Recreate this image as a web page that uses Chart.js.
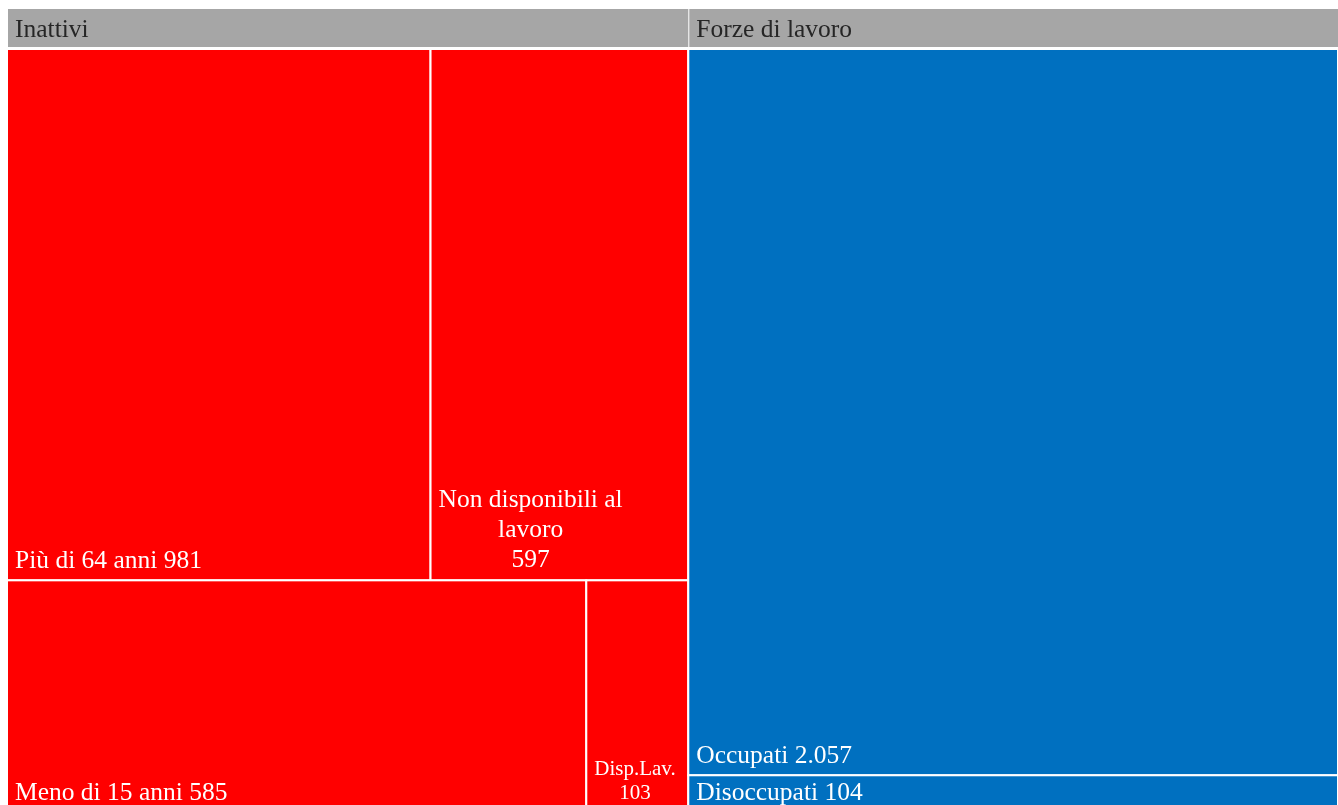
<!DOCTYPE html>
<html>
<head>
<meta charset="utf-8">
<script src="https://cdn.jsdelivr.net/npm/chart.js@4/dist/chart.umd.min.js"></script>
<style>
  html, body { margin: 0; padding: 0; overflow: hidden; background: #fff; }
  canvas { display: block; }
</style>
</head>
<body>
<canvas id="grafico" width="1338" height="812"></canvas>
<script>
// Dati
const gruppi = ["Inattivi", "Forze di lavoro"];
const categorie = ["Più di 64 anni", "Non disponibili al lavoro", "Meno di 15 anni", "Disp.Lav.", "Occupati", "Disoccupati"];
const gruppoDi = [0, 0, 0, 0, 1, 1];
const valori = [981, 597, 585, 103, 2057, 104];
// quante categorie per riga, dentro ogni gruppo
const righe = [[2, 2], [1, 1]];
const coloriGruppi = ["#ff0000", "#0070c0"];

function formatta(n) {
  return String(n).replace(/\B(?=(\d{3})+(?!\d))/g, ".");
}

const somma = arr => arr.reduce((a, b) => a + b, 0);
const totaliGruppi = gruppi.map((g, gi) => somma(valori.filter((v, k) => gruppoDi[k] === gi)));
const totale = somma(totaliGruppi);

// celle in unità dei dati (x: valori, y: quota del gruppo)
const celle = [];
const intestazioni = [];
let inizio = 0;
gruppi.forEach((g, gi) => {
  const indici = valori.map((v, k) => k).filter(k => gruppoDi[k] === gi);
  let y0 = 0, pos = 0;
  righe[gi].forEach(n => {
    const riga = indici.slice(pos, pos + n);
    pos += n;
    const sommaRiga = somma(riga.map(k => valori[k]));
    const h = sommaRiga / totaliGruppi[gi];
    let xx = inizio;
    riga.forEach(k => {
      const w = totaliGruppi[gi] * valori[k] / sommaRiga;
      celle.push({ k, gi, x0: xx, x1: xx + w, y0, y1: y0 + h });
      xx += w;
    });
    y0 += h;
  });
  intestazioni.push({ gi, x0: inizio, x1: inizio + totaliGruppi[gi] });
  inizio += totaliGruppi[gi];
});

function scriviEtichetta(ctx, c, l, t, r, b) {
  const w = r - l;
  const size = w < 150 ? 21 : 25.5;
  ctx.font = size + 'px "Liberation Serif", "Times New Roman", serif';
  ctx.fillStyle = "#ffffff";
  ctx.textBaseline = "alphabetic";
  const testo = categorie[c.k] + " " + formatta(valori[c.k]);
  if (ctx.measureText(testo).width <= w - 16) {
    ctx.textAlign = "left";
    ctx.fillText(testo, l + 8, b - 12);
    return;
  }
  const parole = categorie[c.k].split(" ");
  const linee = [];
  let cur = "";
  parole.forEach(p => {
    const prova = cur ? cur + " " + p : p;
    if (!cur || ctx.measureText(prova).width <= w - 16) cur = prova;
    else { linee.push(cur); cur = p; }
  });
  if (cur) linee.push(cur);
  linee.push(formatta(valori[c.k]));
  const lh = Math.round(size * 1.16);
  const larg = Math.max(...linee.map(s => ctx.measureText(s).width));
  const cx = l + 8 + larg / 2;
  ctx.textAlign = "center";
  linee.forEach((s, i) => {
    ctx.fillText(s, cx, b - 13 - (linee.length - 1 - i) * lh);
  });
}

const treemapPlugin = {
  id: "treemap",
  beforeDatasetsDraw(chart) {
    const { ctx, chartArea, scales: { x, y } } = chart;
    ctx.save();
    // intestazioni dei gruppi
    intestazioni.forEach(h => {
      const l = x.getPixelForValue(h.x0);
      const r = x.getPixelForValue(h.x1);
      ctx.fillStyle = "#a6a6a6";
      ctx.fillRect(l + 1, chartArea.top - 40, r - l - 1, 38);
      ctx.font = '25.5px "Liberation Serif", "Times New Roman", serif';
      ctx.fillStyle = "#262626";
      ctx.textAlign = "left";
      ctx.textBaseline = "alphabetic";
      ctx.fillText(gruppi[h.gi], l + 8, chartArea.top - 12);
    });
    // celle
    celle.forEach(c => {
      const l = x.getPixelForValue(c.x0);
      const r = x.getPixelForValue(c.x1);
      const t = y.getPixelForValue(c.y0);
      const b = y.getPixelForValue(c.y1);
      ctx.fillStyle = coloriGruppi[c.gi];
      ctx.fillRect(l, t, r - l, b - t);
      ctx.strokeStyle = "#ffffff";
      ctx.lineWidth = 2;
      ctx.strokeRect(l, t, r - l, b - t);
      scriviEtichetta(ctx, c, l, t, r, b);
    });
    ctx.restore();
  }
};

new Chart(document.getElementById("grafico"), {
  type: "scatter",
  data: { datasets: [{ data: [], pointRadius: 0 }] },
  options: {
    responsive: false,
    animation: false,
    layout: { padding: { left: 7, right: 0, top: 49, bottom: 0 } },
    scales: {
      x: { type: "linear", min: 0, max: totale, display: false },
      y: { type: "linear", min: 0, max: 1, reverse: true, display: false }
    },
    plugins: {
      legend: { display: false },
      tooltip: { enabled: false }
    }
  },
  plugins: [treemapPlugin]
});
</script>
</body>
</html>
